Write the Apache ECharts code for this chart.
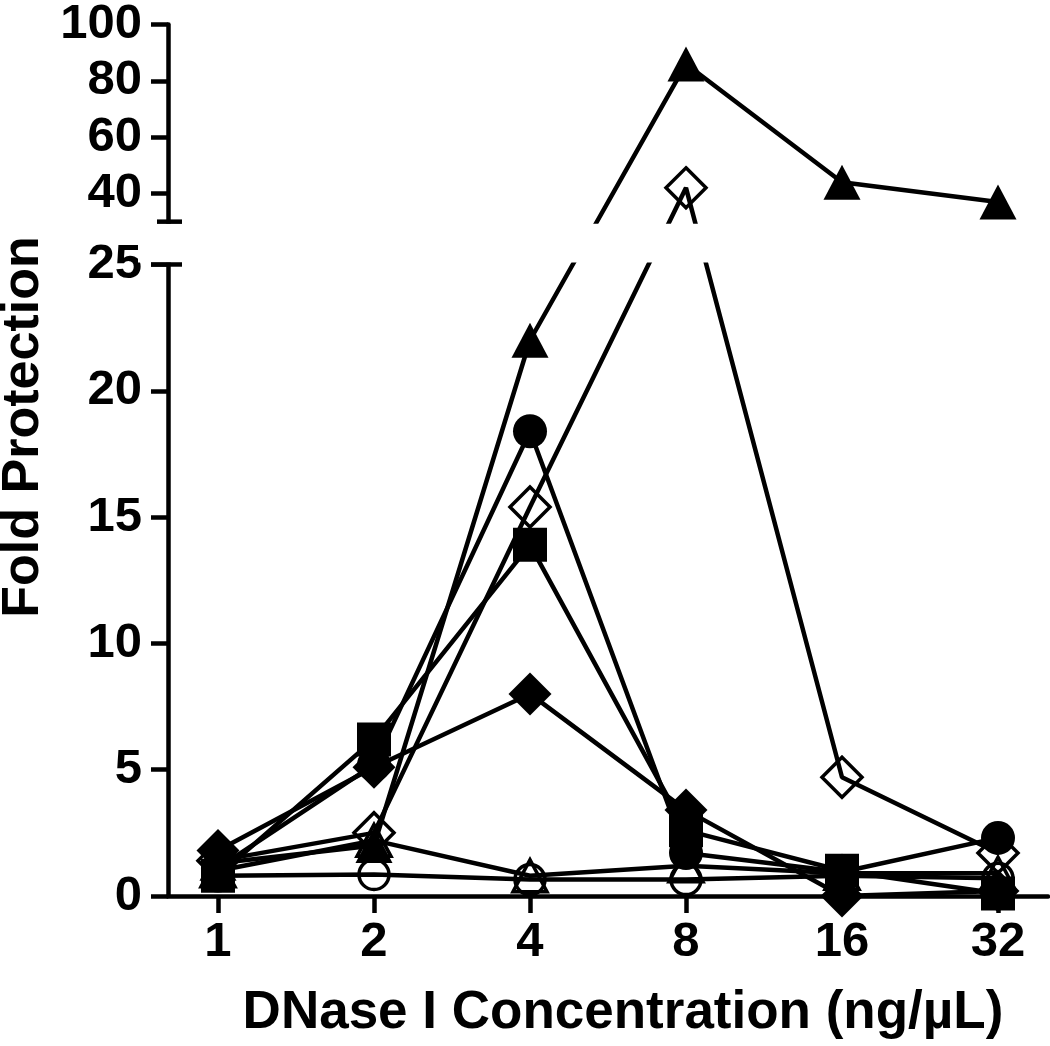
<!DOCTYPE html>
<html>
<head>
<meta charset="utf-8">
<script src="https://cdn.jsdelivr.net/npm/echarts@6/dist/echarts.min.js"></script>
<style>
  html, body { margin: 0; padding: 0; background: #fff; }
  #chart { width: 1050px; height: 1046px; }
</style>
</head>
<body>
<div id="chart"></div>
<script>
// DNase I concentrations (ng/µL), plotted on a log2 axis
const concentrations = [1, 2, 4, 8, 16, 32]

// fold protection per marker type
const filledTriangle = [1.3, 2.0, 22.0, 86, 44, 37]
const filledCircle = [1.1, 5.2, 18.4, 1.7, 0.95, 2.3]
const openDiamond = [1.4, 2.5, 15.4, 42, 4.7, 1.7]
const filledSquare = [0.8, 6.2, 13.9, 2.6, 1.0, 0.1]
const filledDiamond = [1.8, 5.1, 8.0, 3.4, 0.0, 0.2]
const openCircle = [0.8, 0.85, 0.65, 0.65, 0.8, 0.7]
const openTriangle = [1.0, 2.2, 0.8, 1.2, 0.9, 0.9]

const yTicksLower = [0, 5, 10, 15, 20, 25]
const yTicksUpper = [40, 60, 80, 100]

// broken y axis: 0-25 linear, gap, then 30-100 compressed
const LOWER_TOP = 25
const UPPER_BOTTOM = 30
const UPPER_BASE = 27.81   // where 40 sits in display units
const UPPER_SCALE = 0.1115 // display units per unit above the break

function toDisplay(v) {
  return v <= LOWER_TOP ? v : UPPER_BASE + (v - 40) * UPPER_SCALE
}
function fromDisplay(d) {
  return d <= LOWER_TOP + 0.01 ? d : 40 + (d - UPPER_BASE) / UPPER_SCALE
}

const FONT = 'Liberation Sans, Arial, sans-serif'
const LINE_W = 4.5

function makeSeries(name, values, symbol, size, hollow) {
  return {
    name,
    type: 'line',
    data: concentrations.map((c, i) => [Math.log2(c), toDisplay(values[i])]),
    symbol,
    symbolSize: size,
    showAllSymbol: true,
    clip: false,
    lineStyle: { color: '#000', width: LINE_W },
    itemStyle: hollow
      ? { color: 'rgba(0,0,0,0)', borderColor: '#000', borderWidth: 3.5 }
      : { color: '#000', borderWidth: 0 },
    emphasis: { disabled: true }
  }
}

const chart = echarts.init(document.getElementById('chart'), null, { renderer: 'canvas' })

const X_MIN = -0.3205
const X_MAX = 5.3205
const yMax = toDisplay(100)
const yCustom = yTicksLower.concat(yTicksUpper.map(toDisplay))

chart.setOption({
  backgroundColor: '#fff',
  animation: false,
  grid: { left: 168, right: 2, top: 19, bottom: 150 },
  xAxis: {
    type: 'value',
    min: X_MIN,
    max: X_MAX,
    axisLine: { onZero: false, lineStyle: { color: '#000', width: LINE_W } },
    axisTick: { customValues: [0, 1, 2, 3, 4, 5], length: 17, lineStyle: { color: '#000', width: LINE_W } },
    axisLabel: {
      customValues: [0, 1, 2, 3, 4, 5],
      formatter: v => String(Math.round(Math.pow(2, v))),
      color: '#000',
      fontSize: 49,
      fontWeight: 'bold',
      fontFamily: FONT,
      margin: 22
    },
    splitLine: { show: false }
  },
  yAxis: {
    type: 'value',
    min: 0,
    max: yMax,
    axisLine: { show: true, onZero: false, lineStyle: { color: '#000', width: LINE_W } },
    axisTick: { customValues: yCustom, length: 17, lineStyle: { color: '#000', width: LINE_W } },
    axisLabel: {
      customValues: yCustom,
      formatter: v => String(Math.round(fromDisplay(v))),
      color: '#000',
      fontSize: 49,
      fontWeight: 'bold',
      fontFamily: FONT,
      margin: 26
    },
    splitLine: { show: false }
  },
  series: [
    makeSeries('Open circle', openCircle, 'circle', 30, true),
    makeSeries('Open triangle', openTriangle, 'triangle', [34, 32], true),
    makeSeries('Open diamond', openDiamond, 'diamond', [40, 40], true),
    makeSeries('Filled triangle', filledTriangle, 'triangle', [37, 35], false),
    makeSeries('Filled circle', filledCircle, 'circle', 34, false),
    makeSeries('Filled square', filledSquare, 'rect', 34, false),
    makeSeries('Filled diamond', filledDiamond, 'diamond', [43, 43], false)
  ]
})

// axis break: blank band between 25 and 30, with end caps on the axis
const axisX = chart.convertToPixel({ xAxisIndex: 0 }, X_MIN)
const yBreakLow = chart.convertToPixel({ yAxisIndex: 0 }, LOWER_TOP)
const yBreakHigh = chart.convertToPixel({ yAxisIndex: 0 }, toDisplay(UPPER_BOTTOM))

chart.setOption({
  graphic: [
    {
      type: 'rect',
      z: 100,
      shape: { x: axisX - 30, y: yBreakHigh + 2, width: 1050, height: yBreakLow - yBreakHigh - 4 },
      style: { fill: '#fff' }
    },
    {
      type: 'line',
      z: 101,
      shape: { x1: axisX - 11, y1: yBreakHigh, x2: axisX + 14, y2: yBreakHigh },
      style: { stroke: '#000', lineWidth: LINE_W }
    },
    {
      type: 'line',
      z: 101,
      shape: { x1: axisX - 17, y1: yBreakLow, x2: axisX + 14, y2: yBreakLow },
      style: { stroke: '#000', lineWidth: LINE_W }
    },
    {
      type: 'text',
      z: 101,
      x: 24,
      y: 427,
      rotation: Math.PI / 2,
      style: {
        text: 'Fold Protection',
        font: 'bold 52px ' + FONT,
        fill: '#000',
        align: 'center',
        verticalAlign: 'middle'
      }
    },
    {
      type: 'text',
      z: 101,
      x: 623,
      y: 1013,
      style: {
        text: 'DNase I Concentration (ng/µL)',
        font: 'bold 53px ' + FONT,
        fill: '#000',
        align: 'center',
        verticalAlign: 'middle'
      }
    }
  ]
})
</script>
</body>
</html>
